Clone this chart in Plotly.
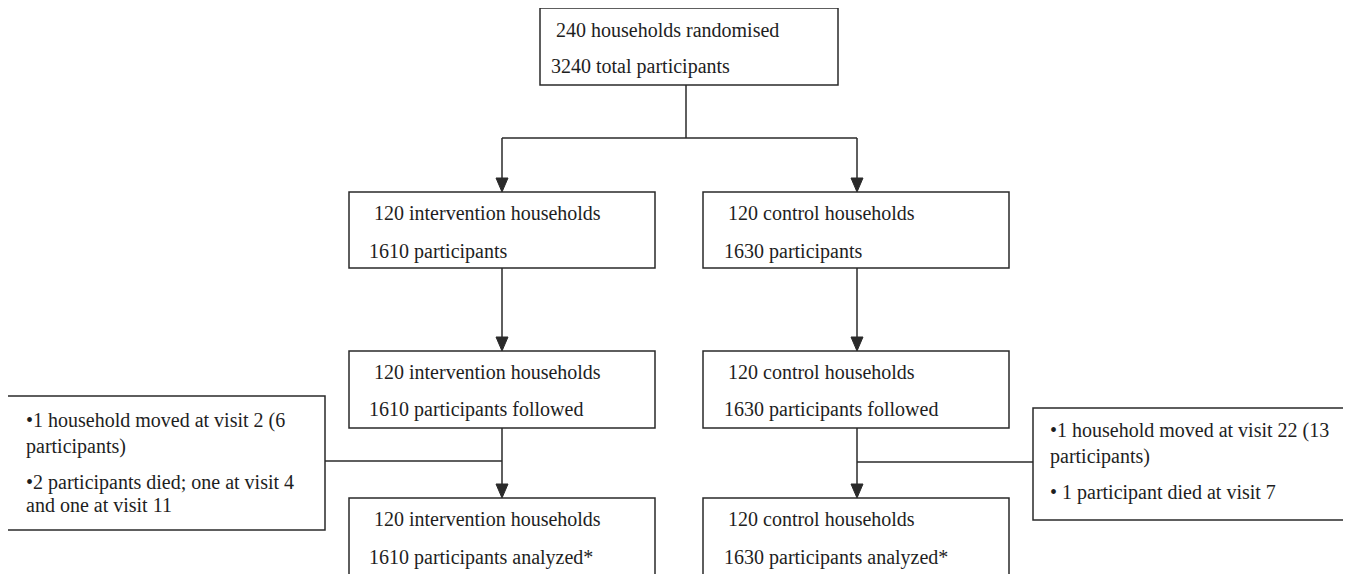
import plotly.graph_objects as go

# Flowchart texts
TOP_TEXT = ["240 households randomised", "3240 total participants"]
ARM_LEFT = [
    ["120 intervention households", "1610 participants"],
    ["120 intervention households", "1610 participants followed"],
    ["120 intervention households", "1610 participants analyzed*"],
]
ARM_RIGHT = [
    ["120 control households", "1630 participants"],
    ["120 control households", "1630 participants followed"],
    ["120 control households", "1630 participants analyzed*"],
]
LOSS_LEFT = ["\u20221 household moved at visit 2 (6", "participants)",
             "\u20222 participants died; one at visit 4", "and one at visit 11"]
LOSS_RIGHT = ["\u20221 household moved at visit 22 (13", "participants)",
              "\u2022 1 participant died at visit 7"]

W, H = 1351, 574
PAD = 8  # page body margin
LINE = "#2a2a2a"
TXT = "#1e1e1e"
FONT = "Liberation Serif"
FS = 20

# layout geometry (pixels, y down)
TOP_BOX = (540, 8, 838, 85)
COL_L = (349, 655)
COL_R = (703, 1009)
ROWS = [(192, 268), (351, 428), (498, 590)]
ROW_TEXT_Y = [(213, 251), (372, 409), (519, 557)]
SIDE_L = (7, 396, 325, 530)
SIDE_R = (1033, 408, 1349, 520)
XL, XR = 502, 857

fig = go.Figure()
shapes = []
annots = []


def box(x0, y0, x1, y1):
    shapes.append(dict(type="rect", x0=x0, y0=y0, x1=x1, y1=y1,
                       line=dict(color=LINE, width=1.5), fillcolor="white", layer="above"))


def line(x0, y0, x1, y1):
    shapes.append(dict(type="line", x0=x0, y0=y0, x1=x1, y1=y1,
                       line=dict(color=LINE, width=1.5)))


def arrow(x, y0, y1):
    line(x, y0, x, y1 - 8)
    shapes.append(dict(type="path", path=f"M {x-6},{y1-14} L {x+6},{y1-14} L {x},{y1} Z",
                       fillcolor=LINE, line=dict(color=LINE, width=1)))


def text(x, y, s):
    annots.append(dict(x=x, y=y, text=s, xref="x", yref="y", showarrow=False,
                       xanchor="left", yanchor="middle",
                       font=dict(family=FONT, size=FS, color=TXT)))


# connectors
line(686, TOP_BOX[3], 686, 138)
line(XL, 138, XR, 138)
arrow(XL, 138, ROWS[0][0])
arrow(XR, 138, ROWS[0][0])
for i in range(2):
    arrow(XL, ROWS[i][1], ROWS[i + 1][0])
    arrow(XR, ROWS[i][1], ROWS[i + 1][0])
line(SIDE_L[2], 461, XL, 461)
line(XR, 462, SIDE_R[0], 462)

# boxes
box(*TOP_BOX)
for (y0, y1) in ROWS:
    box(COL_L[0], y0, COL_L[1], y1)
    box(COL_R[0], y0, COL_R[1], y1)
box(*SIDE_L)
box(*SIDE_R)

# texts
text(554, 30, TOP_TEXT[0])
text(549, 66, TOP_TEXT[1])
for i, (ya, yb) in enumerate(ROW_TEXT_Y):
    text(372, ya, ARM_LEFT[i][0])
    text(367, yb, ARM_LEFT[i][1])
    text(726, ya, ARM_RIGHT[i][0])
    text(722, yb, ARM_RIGHT[i][1])
for s, y in zip(LOSS_LEFT, [420, 446, 482, 505]):
    text(24, y, s)
for s, y in zip(LOSS_RIGHT, [430, 456, 492]):
    text(1048, y, s)

fig.update_layout(
    width=W - PAD, height=H - PAD,
    margin=dict(l=0, r=0, t=0, b=0),
    paper_bgcolor="white", plot_bgcolor="white",
    font=dict(family=FONT),
    shapes=shapes, annotations=annots,
    xaxis=dict(range=[PAD, W], visible=False, fixedrange=True),
    yaxis=dict(range=[H, PAD], visible=False, fixedrange=True),
    showlegend=False,
)

fig.write_html("out.html", config={"displayModeBar": False})
